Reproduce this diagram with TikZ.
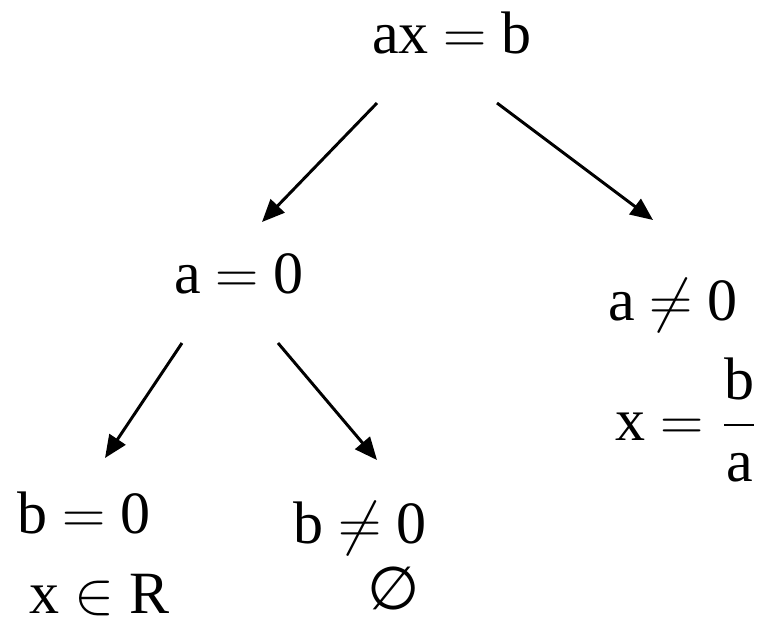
\documentclass[tikz,border=0pt]{standalone}
\usepackage{fontspec}
\setmainfont{Liberation Serif}
\newfontfamily\symfont{DejaVu Sans}
\usepackage{amsmath,amssymb}
\usepackage{tikz}
\usetikzlibrary{arrows.meta,positioning,calc}

\begin{document}
\begin{tikzpicture}[
  x=0.288pt, y=-0.288pt,
  >={Triangle[length=6.5pt, width=5.5pt]},
  lbl/.style={anchor=base, inner sep=0pt, font=\LARGE},
  arr/.style={->, line width=0.85pt},
]
\useasboundingbox (0,0) rectangle (762,621);

% Nodes
\node[lbl] (root) at (452,53) {ax $=$ b};
\node[lbl] (azero) at (239,293) {a $=$ 0};
\node[lbl] (aneq) at (673,320) {a $\neq$ 0};
\node[lbl] (sol) at (687,440) {x $=\dfrac{\mathrm{b}}{\mathrm{a}}$};
\node[lbl] (bzero) at (84,533) {b $=$ 0};
\node[lbl] (bneq) at (360,543) {b $\neq$ 0};
\node[lbl] (xinR) at (100,613) {x $\in$ R};
\node[lbl, font=\LARGE\symfont] (empty) at (394,609) {∅};

% Arrows
\draw[arr] ($(root.base)+(-75,50)$) -- ($(azero.base)+(23,-71)$);
\draw[arr] ($(root.base)+(45,50)$) -- ($(aneq.base)+(-20,-100)$);
\draw[arr] ($(azero.base)+(-57,50)$) -- ($(bzero.base)+(21,-75)$);
\draw[arr] ($(azero.base)+(39,50)$) -- ($(bneq.base)+(17,-83)$);
\end{tikzpicture}
\end{document}
